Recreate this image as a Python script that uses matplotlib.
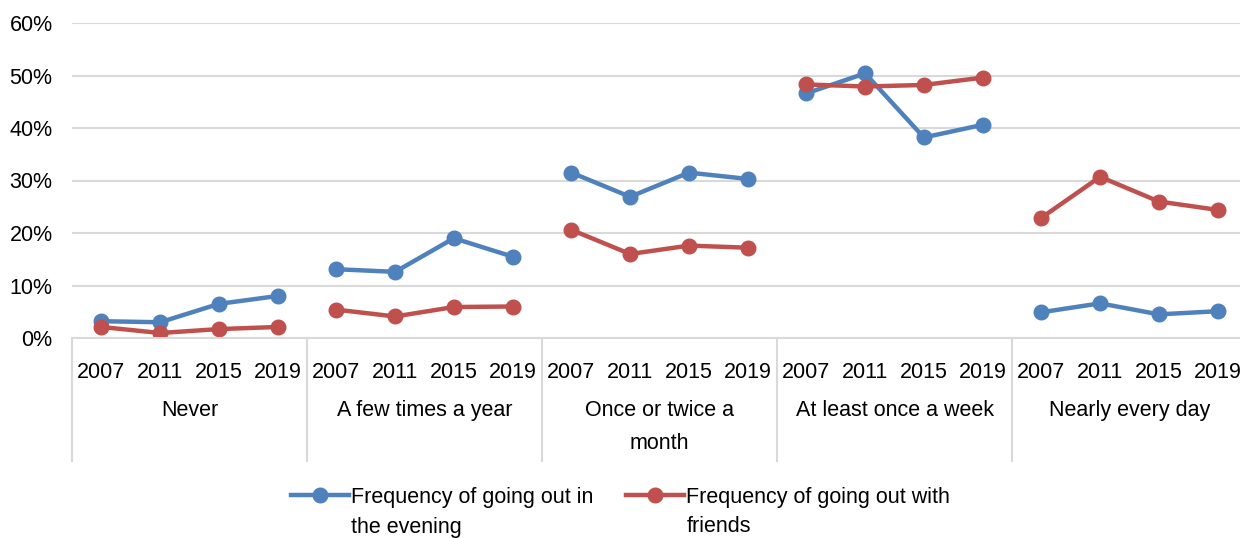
import matplotlib
matplotlib.use("Agg")
import matplotlib.pyplot as plt
from matplotlib.ticker import FuncFormatter

# data (percent)
groups = ["Never", "A few times a year", "Once or twice a\nmonth",
          "At least once a week", "Nearly every day"]
years = ["2007", "2011", "2015", "2019"]

evening = [
    [3.2, 3.0, 6.5, 8.0],
    [13.1, 12.6, 19.0, 15.5],
    [31.5, 26.9, 31.5, 30.3],
    [46.6, 50.4, 38.2, 40.6],
    [4.9, 6.6, 4.5, 5.1],
]
friends = [
    [2.1, 0.95, 1.7, 2.1],
    [5.4, 4.1, 5.9, 6.0],
    [20.6, 16.0, 17.6, 17.2],
    [48.3, 47.9, 48.2, 49.6],
    [22.9, 30.7, 26.0, 24.4],
]

# legend labels wrap onto a second line, as in the original
series_first = ["Frequency of going out in", "Frequency of going out with"]
series_second = ["the evening", "friends"]
blue = "#4f81bd"
red = "#c0504d"

FS = 15.5
plt.rcParams['font.family'] = ['Liberation Sans', 'DejaVu Sans']
plt.rcParams['font.size'] = FS

W, H = 1240, 538
fig = plt.figure(figsize=(W / 100, H / 100), dpi=100)
ax = fig.add_axes([72 / W, 200 / H, 1175 / W, 315 / H])

n = len(years)
for g in range(len(groups)):
    xs = [g * n + i for i in range(n)]
    ax.plot(xs, [v / 100 for v in evening[g]], color=blue, lw=3.2,
            marker="o", ms=10.5, label=series_first[0] if g == 0 else None)
    ax.plot(xs, [v / 100 for v in friends[g]], color=red, lw=3.2,
            marker="o", ms=10.5, label=series_first[1] if g == 0 else None)

ax.set_ylim(0, 0.6)
ax.set_xlim(-0.5, len(groups) * n - 0.5)
ax.set_yticks([0, 0.1, 0.2, 0.3, 0.4, 0.5, 0.6])
ax.yaxis.set_major_formatter(FuncFormatter(lambda v, p: f"{v*100:.0f}%"))
ax.grid(axis="y", color="#d9d9d9", lw=1.5)
ax.set_axisbelow(True)

ax.set_xticks(range(len(groups) * n))
ax.set_xticklabels(years * len(groups))
ax.tick_params(axis="both", length=0, colors="black", labelsize=FS)
ax.tick_params(axis="x", pad=17)
ax.tick_params(axis="y", pad=14)

for s in ["top", "right", "left"]:
    ax.spines[s].set_visible(False)
ax.spines["bottom"].set_color("#d9d9d9")
ax.spines["bottom"].set_linewidth(1.5)

# group separators and group labels below the axis
bounds = [g * n - 0.5 for g in range(len(groups) + 1)]
ax.vlines(bounds, -124 / 315, 0, transform=ax.get_xaxis_transform(),
          colors="#d9d9d9", lw=1.5, clip_on=False)
for g, name in enumerate(groups):
    ax.text(g * n + (n - 1) / 2, -62 / 315, name, transform=ax.get_xaxis_transform(),
            ha="center", va="top", fontsize=FS, linespacing=1.75)

leg = fig.legend(loc="center", bbox_to_anchor=(0.5005, 1 - 497 / H), ncol=2,
                 frameon=False, fontsize=FS, handlelength=2.7, handletextpad=0.1,
                 columnspacing=1.5, borderpad=0)

# second line of each legend label, under the first one
fig.canvas.draw()
for t, extra in zip(leg.get_texts(), series_second):
    bb = t.get_window_extent()
    fig.text(bb.x0 / W, (bb.y0 + bb.y1) / 2 / H - 30 / H, extra,
             ha="left", va="center", fontsize=FS)

fig.savefig("out.png", dpi=100)
